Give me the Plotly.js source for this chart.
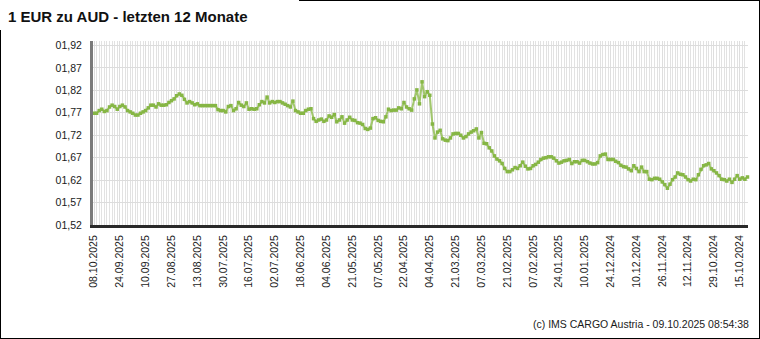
<!DOCTYPE html>
<html>
<head>
<meta charset="utf-8">
<script src="https://cdn.plot.ly/plotly-3.0.1.min.js"></script>
<style>
  html, body { margin: 0; padding: 0; background: #fff; }
  #wrap { position: relative; width: 760px; height: 339px; overflow: hidden; }
  #chart { position: absolute; left: 0; top: 0; width: 760px; height: 339px; }
  .bd { position: absolute; background: #000; }
</style>
</head>
<body>
<div id="wrap">
  <div id="chart"></div>
  <div class="bd" style="left:0;top:30px;width:1px;height:309px"></div>
  <div class="bd" style="left:759px;top:0;width:1px;height:339px"></div>
  <div class="bd" style="left:0;top:338px;width:760px;height:1px"></div>
  <div class="bd" style="left:299px;top:0;width:461px;height:1px"></div>
</div>
<script>
// ---- data (newest on the left, business days, 10 per tick label) ----
const chartTitle = "1 EUR zu AUD - letzten 12 Monate";
const footerText = "(c) IMS CARGO Austria - 09.10.2025 08:54:38";
const lastDate = "08.10.2025";
const holidays = ["25.12.2024", "26.12.2024", "01.01.2025", "18.04.2025", "21.04.2025", "01.05.2025"];

const tickLabels = [
  "08.10.2025", "24.09.2025", "10.09.2025", "27.08.2025", "13.08.2025", "30.07.2025",
  "16.07.2025", "02.07.2025", "18.06.2025", "04.06.2025", "21.05.2025", "07.05.2025",
  "22.04.2025", "04.04.2025", "21.03.2025", "07.03.2025", "21.02.2025", "07.02.2025",
  "24.01.2025", "10.01.2025", "24.12.2024", "10.12.2024", "26.11.2024", "12.11.2024",
  "29.10.2024", "15.10.2024"
];

const yTickValues = [1.52, 1.57, 1.62, 1.67, 1.72, 1.77, 1.82, 1.87, 1.92];
const yTickLabels = ["01,52", "01,57", "01,62", "01,67", "01,72", "01,77", "01,82", "01,87", "01,92"];

const rates = [
  1.769,1.769,1.775,1.778,1.773,1.775,1.783,1.787,1.784,1.778,
  1.784,1.787,1.783,1.775,1.772,1.769,1.765,1.765,1.769,1.772,
  1.775,1.781,1.787,1.787,1.783,1.790,1.787,1.787,1.788,1.793,
  1.797,1.801,1.808,1.812,1.809,1.800,1.792,1.795,1.792,1.788,
  1.790,1.786,1.786,1.786,1.786,1.786,1.786,1.786,1.777,1.775,
  1.775,1.772,1.784,1.786,1.775,1.779,1.793,1.787,1.784,1.792,
  1.778,1.779,1.778,1.779,1.788,
  1.795,1.792,1.805,1.792,1.795,1.793,1.795,1.795,1.792,1.789,
  1.786,1.783,1.796,1.775,1.772,1.769,1.769,1.775,1.778,1.779,
  1.757,1.751,1.754,1.756,1.751,1.754,1.763,1.760,1.766,1.750,
  1.754,1.761,1.747,1.754,1.760,1.754,1.753,1.748,1.747,1.744,
  1.735,1.733,1.736,1.757,1.759,1.753,1.751,1.750,1.761,1.778,
  1.775,1.776,1.776,1.781,1.779,1.793,1.783,1.779,1.776,1.801,
  1.821,1.790,1.839,1.806,1.817,1.809,1.745,1.714,
  1.727,1.731,1.712,1.709,1.708,1.714,1.723,1.724,1.724,1.720,
  1.714,1.717,1.723,1.727,1.730,1.734,1.714,1.726,1.702,1.701,
  1.692,1.685,1.674,1.667,1.663,1.657,1.646,1.639,1.639,1.643,
  1.648,1.646,1.652,1.660,1.651,1.645,1.646,1.652,1.655,1.660,
  1.666,1.669,1.670,1.672,1.672,1.669,1.663,1.658,1.660,1.663,
  1.664,1.666,1.657,1.661,1.661,1.658,1.664,1.664,
  1.661,1.658,1.656,1.656,1.659,1.674,1.677,1.678,1.666,1.666,
  1.666,1.662,1.659,1.653,1.650,1.649,1.645,1.641,1.652,1.646,
  1.639,1.649,1.639,1.639,1.622,1.621,1.624,1.624,1.622,1.616,
  1.610,1.602,1.611,1.621,1.627,1.636,1.633,1.632,1.627,1.621,
  1.618,1.622,1.621,1.632,1.644,1.652,1.654,1.657,1.645,1.641,
  1.636,1.630,1.622,1.621,1.618,1.622,1.615,1.622,1.630,1.622,
  1.625,1.622,1.627
];

// ---- business-day calendar (categories), newest first ----
function fmt(d) {
  const p = n => (n < 10 ? "0" : "") + n;
  return p(d.getDate()) + "." + p(d.getMonth() + 1) + "." + d.getFullYear();
}
function buildDates(lastStr, n) {
  const [dd, mm, yy] = lastStr.split(".").map(Number);
  const d = new Date(yy, mm - 1, dd, 12);
  const out = [];
  while (out.length < n) {
    const s = fmt(d);
    const wd = d.getDay();
    if (wd !== 0 && wd !== 6 && holidays.indexOf(s) < 0) out.push(s);
    d.setDate(d.getDate() - 1);
  }
  return out;
}
const dates = buildDates(lastDate, rates.length);
const xIdx = dates.map((_, i) => i);
const tickVals = tickLabels.map((l, i) => {
  const k = dates.indexOf(l);
  return k >= 0 ? k : i * 10;
});

const FONT = "Liberation Sans, Arial, sans-serif";

const trace = {
  type: "scatter",
  mode: "lines+markers",
  x: xIdx,
  y: rates,
  text: dates,
  hovertemplate: "%{text}: %{y:.4f}<extra></extra>",
  line: { color: "rgba(146,190,84,0.85)", width: 2 },
  marker: { color: "#86b645", size: 3.5, symbol: "square" },
  cliponaxis: false
};

const layout = {
  width: 760,
  height: 339,
  margin: { l: 93, r: 12, t: 41, b: 114 },
  paper_bgcolor: "#ffffff",
  plot_bgcolor: "#ffffff",
  showlegend: false,
  font: { family: FONT, size: 10.5, color: "#1a1a1a" },
  title: {
    text: "<b>" + chartTitle + "</b>",
    font: { family: FONT, size: 15, color: "#111" },
    xref: "container", yref: "container",
    x: 8 / 760, xanchor: "left",
    y: 1 - 17 / 339, yanchor: "middle"
  },
  xaxis: {
    range: [-0.4, rates.length - 0.8],
    tickmode: "array",
    tickvals: tickVals,
    ticktext: tickLabels,
    tickangle: -90,
    ticks: "",
    ticklabelstandoff: 3,
    tickfont: { family: FONT, size: 10.5, color: "#1a1a1a" },
    showgrid: true,
    gridcolor: "#dedede",
    gridwidth: 1,
    minor: { tickmode: "linear", tick0: 0, dtick: 1, showgrid: true, gridcolor: "#e2e2e2", gridwidth: 1 },
    zeroline: false,
    showline: true,
    linecolor: "#2a2a2a",
    linewidth: 3,
    fixedrange: true
  },
  yaxis: {
    range: [1.52, 1.93],
    tickmode: "array",
    tickvals: yTickValues,
    ticktext: yTickLabels,
    ticks: "",
    ticklabelstandoff: 6,
    tickfont: { family: FONT, size: 10.5, color: "#1a1a1a" },
    showgrid: true,
    gridcolor: "#dcdcdc",
    gridwidth: 1,
    zeroline: false,
    showline: true,
    linecolor: "#7a7a7a",
    linewidth: 3,
    fixedrange: true
  },
  annotations: [{
    text: footerText,
    xref: "paper", yref: "paper",
    x: (751 - 93) / 655, xanchor: "right",
    y: -(324 - 225) / 184, yanchor: "middle",
    showarrow: false,
    font: { family: FONT, size: 10.5, color: "#1a1a1a" }
  }]
};

Plotly.newPlot("chart", [trace], layout, { displayModeBar: false, staticPlot: true });
</script>
</body>
</html>
